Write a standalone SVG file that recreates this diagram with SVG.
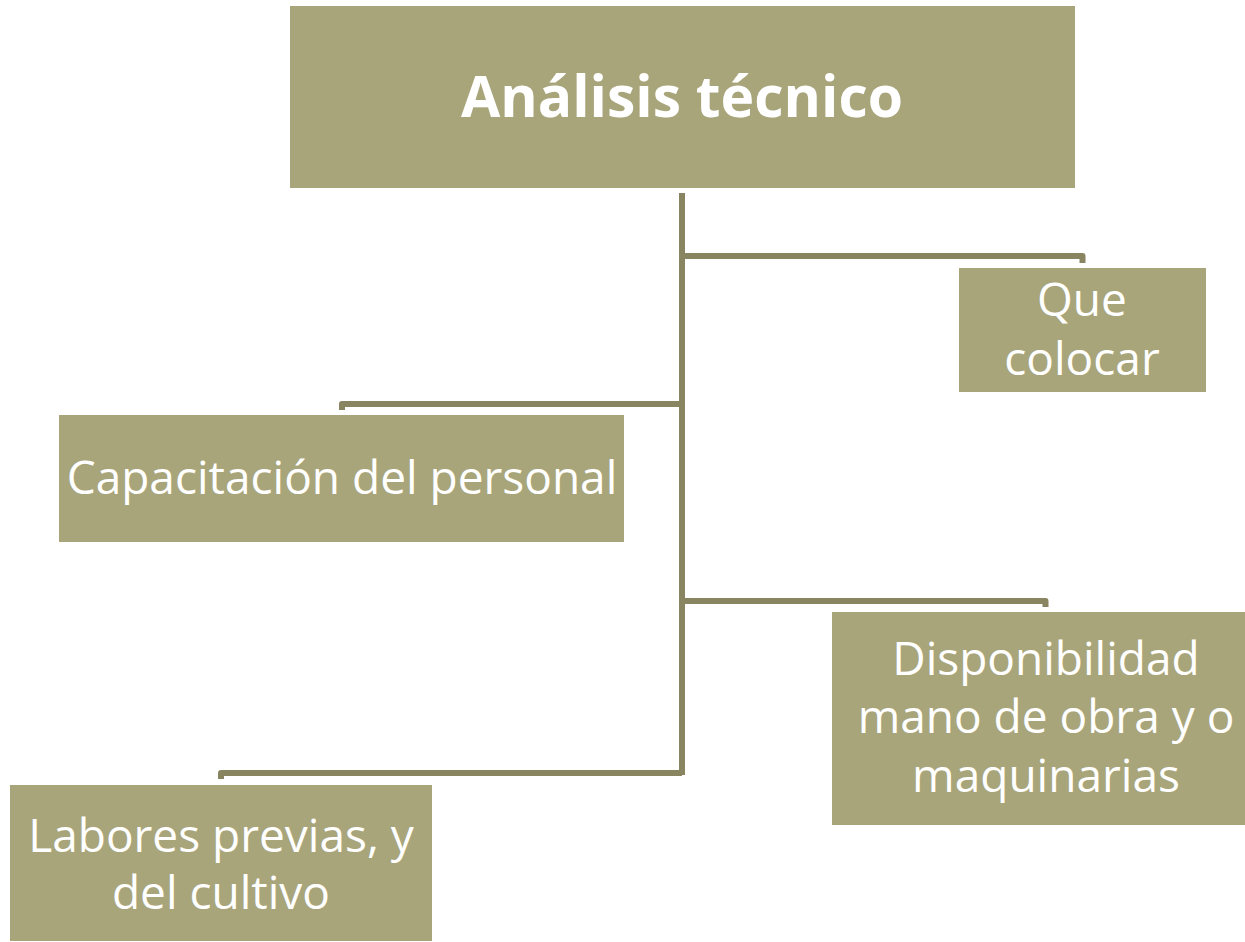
<svg xmlns="http://www.w3.org/2000/svg" width="1245" height="942" viewBox="0 0 1245 942">
<style>
.box{fill:#a9a57b}
.t{font-family:"Open Sans","Liberation Sans",sans-serif;fill:#fff;text-anchor:middle;font-size:46px}
.title{font-weight:bold;font-size:57px}
.c{fill:none;stroke:#8a8561;stroke-width:6;stroke-linejoin:round}
</style>
<rect width="1245" height="942" fill="#fff"/>
<g id="connectors">
<path class="c" d="M682 193 V775"/>
<path class="c" d="M682 256 H1082.5 V263"/>
<path class="c" d="M682 404 H342 V410"/>
<path class="c" d="M682 601 H1045.5 V607"/>
<path class="c" d="M682 773 H221 V779"/>
</g>
<g id="n0"><rect class="box" x="290" y="6" width="785" height="182"/><text class="t title" x="682" y="117">Análisis técnico</text></g>
<g id="n1"><rect class="box" x="959" y="268" width="247" height="124"/><text class="t" x="1082" y="316">Que</text><text class="t" x="1082" y="375">colocar</text></g>
<g id="n2"><rect class="box" x="59" y="415" width="565" height="127"/><text class="t" x="342" y="494">Capacitación del personal</text></g>
<g id="n3"><rect class="box" x="832" y="612" width="413" height="213"/><text class="t" x="1046" y="675">Disponibilidad</text><text class="t" x="1046" y="733">mano de obra y o</text><text class="t" x="1046" y="792">maquinarias</text></g>
<g id="n4"><rect class="box" x="10" y="785" width="422" height="156"/><text class="t" x="221" y="852">Labores previas, y</text><text class="t" x="221" y="909">del cultivo</text></g>
</svg>
